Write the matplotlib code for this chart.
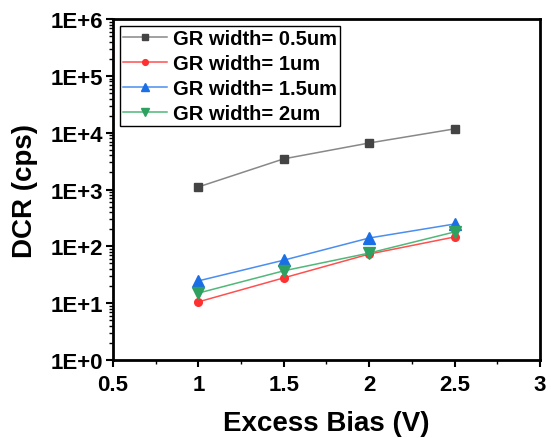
import matplotlib
matplotlib.use("Agg")
import matplotlib.pyplot as plt
from matplotlib.ticker import LogLocator, NullFormatter, FixedLocator, MultipleLocator

plt.rcParams['font.family'] = ['Liberation Sans', 'DejaVu Sans']
plt.rcParams['font.weight'] = 'bold'

bias = [1.0, 1.5, 2.0, 2.5]
dcr_05 = [1110, 3470, 6600, 11700]
dcr_1 = [10.5, 27.8, 73, 146]
dcr_15 = [24.6, 57, 140, 247]
dcr_2 = [15, 37, 76, 179]
labels = ["GR width= 0.5um", "GR width= 1um", "GR width= 1.5um", "GR width= 2um"]
ytick_vals = [1, 10, 100, 1000, 1e4, 1e5, 1e6]
ytick_labels = ["1E+0", "1E+1", "1E+2", "1E+3", "1E+4", "1E+5", "1E+6"]
xtick_vals = [0.5, 1, 1.5, 2, 2.5, 3]
xtick_labels = ["0.5", "1", "1.5", "2", "2.5", "3"]

fig = plt.figure(figsize=(5.51, 4.39), dpi=100)
ax = fig.add_axes([0.205, 0.178, 0.775, 0.776])

series = [
    (dcr_05, '#444444', '#888888', 's', 5.5),
    (dcr_1, '#ff3030', '#ff5050', 'o', 5.5),
    (dcr_15, '#1a6fe6', '#4a8ef0', '^', 8),
    (dcr_2, '#2ea060', '#50b878', 'v', 8),
]
for (vals, mc, lc, m, ms), lab in zip(series, labels):
    ax.plot(bias, vals, color=lc, lw=1.1, marker=m, ms=ms, mfc=mc, mec=mc, label=lab)

ax.set_yscale('log')
ax.set_ylim(1, 1e6)
ax.set_xlim(0.5, 3)
ax.yaxis.set_major_locator(FixedLocator(ytick_vals))
ax.set_yticklabels(ytick_labels)
ax.yaxis.set_minor_locator(LogLocator(base=10, subs=range(2, 10), numticks=20))
ax.yaxis.set_minor_formatter(NullFormatter())
ax.set_xticks(xtick_vals)
ax.set_xticklabels(xtick_labels)
ax.xaxis.set_minor_locator(MultipleLocator(0.25))

for s in ax.spines.values():
    s.set_linewidth(2)
ax.tick_params(which='major', direction='out', length=5, width=1.5, labelsize=16, pad=2,
               top=False, right=False)
ax.tick_params(axis='x', which='major', pad=5)
ax.tick_params(which='minor', direction='out', length=3, width=1, top=False, right=False)
for t in ax.get_xticklabels() + ax.get_yticklabels():
    t.set_fontweight('bold')

ax.set_xlabel("Excess Bias (V)", fontsize=20, fontweight='bold', labelpad=11)
ax.set_ylabel("DCR (cps)", fontsize=20, fontweight='bold', labelpad=9)

leg = ax.legend(loc='upper left', fontsize=14.5, frameon=True, fancybox=False,
                edgecolor='black', framealpha=1, borderpad=0.15, labelspacing=0.3,
                handlelength=2.2, handletextpad=0.3, borderaxespad=0.35, markerscale=0.75)
leg.get_frame().set_linewidth(1)
for t in leg.get_texts():
    t.set_fontweight('bold')

fig.savefig("out.png", dpi=100)
